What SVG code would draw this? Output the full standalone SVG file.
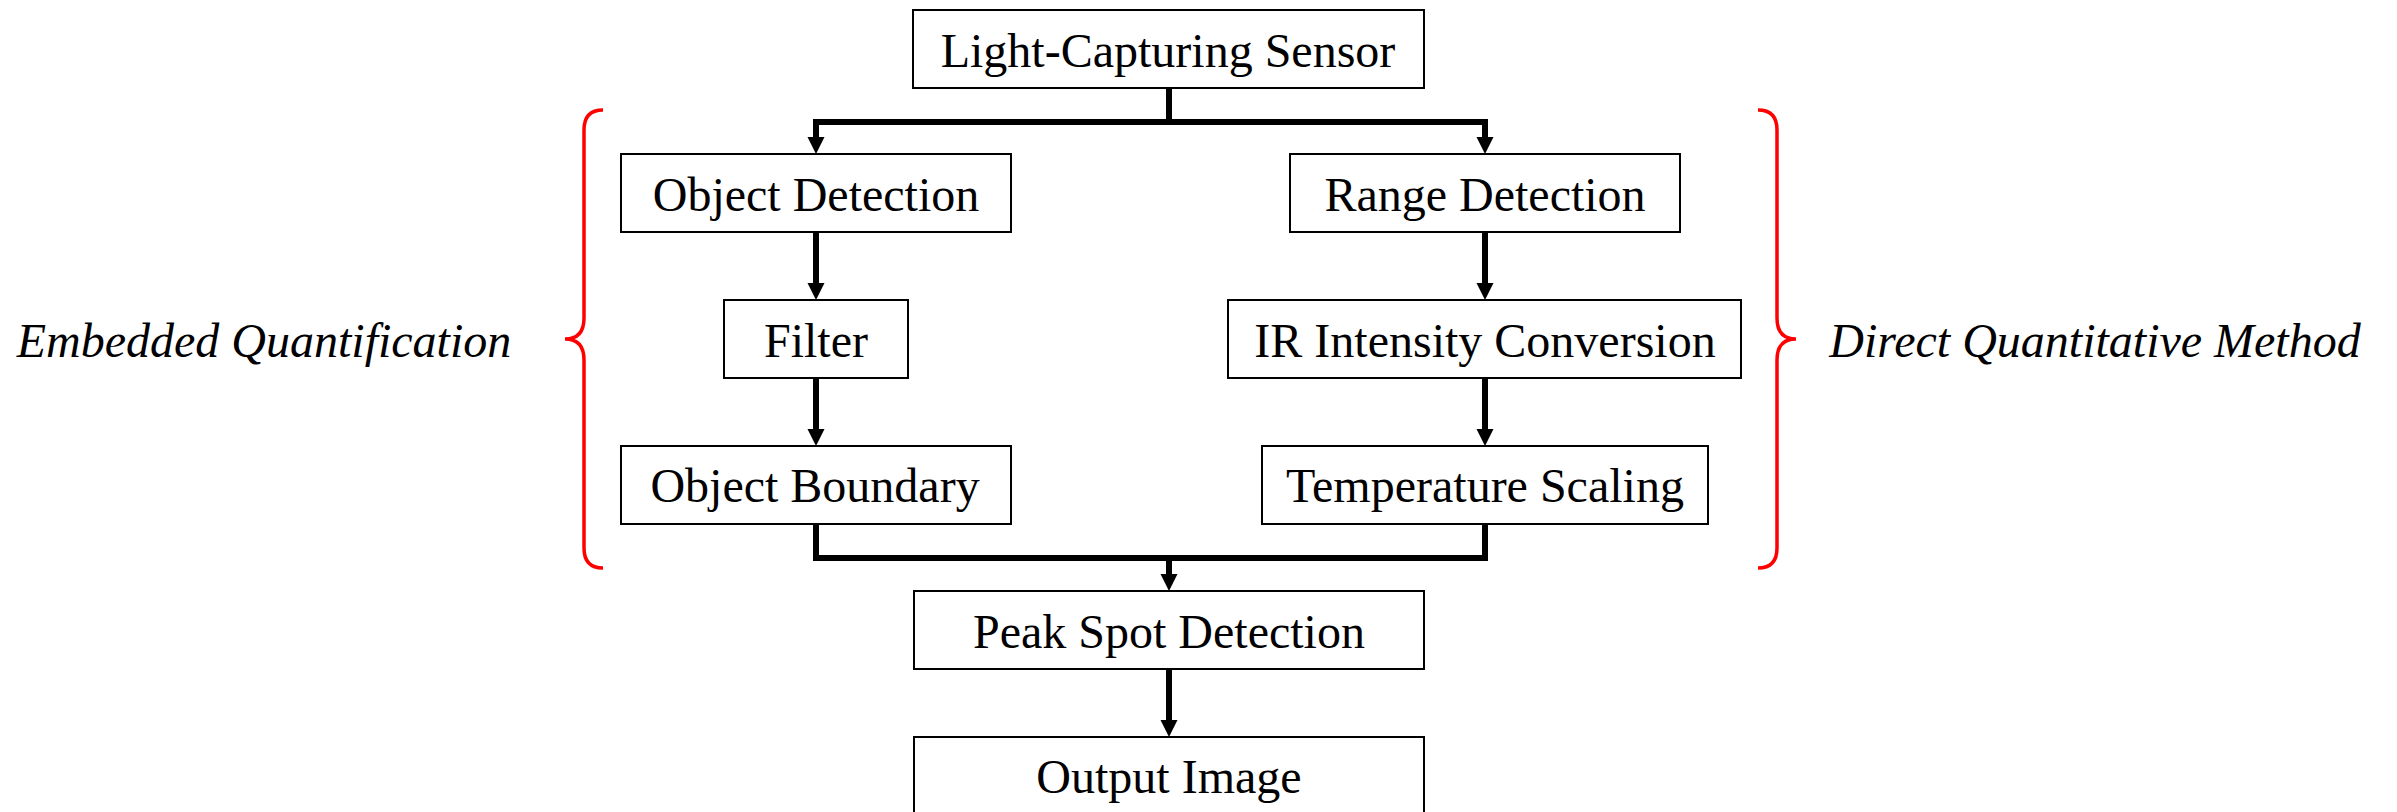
<svg xmlns="http://www.w3.org/2000/svg" width="2397" height="812" viewBox="0 0 2397 812">
<style>
.box{fill:#fff;stroke:#000;stroke-width:2}
.t{font-family:"Liberation Serif","Times New Roman",serif;font-size:48px;fill:#000;text-anchor:middle}
.it{font-family:"Liberation Serif","Times New Roman",serif;font-size:48px;font-style:italic;fill:#000;text-anchor:middle}
.c{fill:none;stroke:#000;stroke-width:6;stroke-linejoin:miter}
.br{fill:none;stroke:#ff0000;stroke-width:3.5}
</style>
<defs>
<marker id="ah" markerUnits="userSpaceOnUse" markerWidth="18" markerHeight="18" refX="0" refY="8.5" orient="auto" overflow="visible">
<path d="M0,0 L17,8.5 L0,17 Z" fill="#000"/>
</marker>
</defs>
<rect width="2397" height="812" fill="#fff"/>
<g id="connectors">
<path class="c" d="M1169,88 V122 H816 V137" marker-end="url(#ah)"/>
<path class="c" d="M1169,122 H1485 V137" marker-end="url(#ah)"/>
<path class="c" d="M816,232 V283" marker-end="url(#ah)"/>
<path class="c" d="M816,378 V429" marker-end="url(#ah)"/>
<path class="c" d="M1485,232 V283" marker-end="url(#ah)"/>
<path class="c" d="M1485,378 V429" marker-end="url(#ah)"/>
<path class="c" d="M816,524 V558 H1169 V574" marker-end="url(#ah)"/>
<path class="c" d="M1485,524 V558 H1169"/>
<path class="c" d="M1169,669 V720" marker-end="url(#ah)"/>
</g>
<g id="sensor"><rect class="box" x="913" y="10" width="511" height="78"/><text class="t" x="1168" y="67">Light-Capturing Sensor</text></g>
<g id="object-detection"><rect class="box" x="621" y="154" width="390" height="78"/><text class="t" x="816" y="211">Object Detection</text></g>
<g id="filter"><rect class="box" x="724" y="300" width="184" height="78"/><text class="t" x="816" y="357">Filter</text></g>
<g id="object-boundary"><rect class="box" x="621" y="446" width="390" height="78"/><text class="t" x="815" y="502">Object Boundary</text></g>
<g id="range-detection"><rect class="box" x="1290" y="154" width="390" height="78"/><text class="t" x="1485" y="211">Range Detection</text></g>
<g id="ir-conversion"><rect class="box" x="1228" y="300" width="513" height="78"/><text class="t" x="1485" y="357">IR Intensity Conversion</text></g>
<g id="temperature-scaling"><rect class="box" x="1262" y="446" width="446" height="78"/><text class="t" x="1485" y="502">Temperature Scaling</text></g>
<g id="peak-spot"><rect class="box" x="914" y="591" width="510" height="78"/><text class="t" x="1169" y="648">Peak Spot Detection</text></g>
<g id="output-image"><rect class="box" x="914" y="737" width="510" height="80"/><text class="t" x="1169" y="793">Output Image</text></g>
<g id="embedded-group">
<path class="br" d="M603,110 Q584,110 584,130 L584,318 Q584,339 565,339 Q584,339 584,360 L584,548 Q584,568 603,568"/>
<text class="it" x="264" y="357">Embedded Quantification</text>
</g>
<g id="direct-group">
<path class="br" d="M1758,110 Q1777,110 1777,130 L1777,318 Q1777,339 1796,339 Q1777,339 1777,360 L1777,548 Q1777,568 1758,568"/>
<text class="it" x="2095" y="357">Direct Quantitative Method</text>
</g>
</svg>
